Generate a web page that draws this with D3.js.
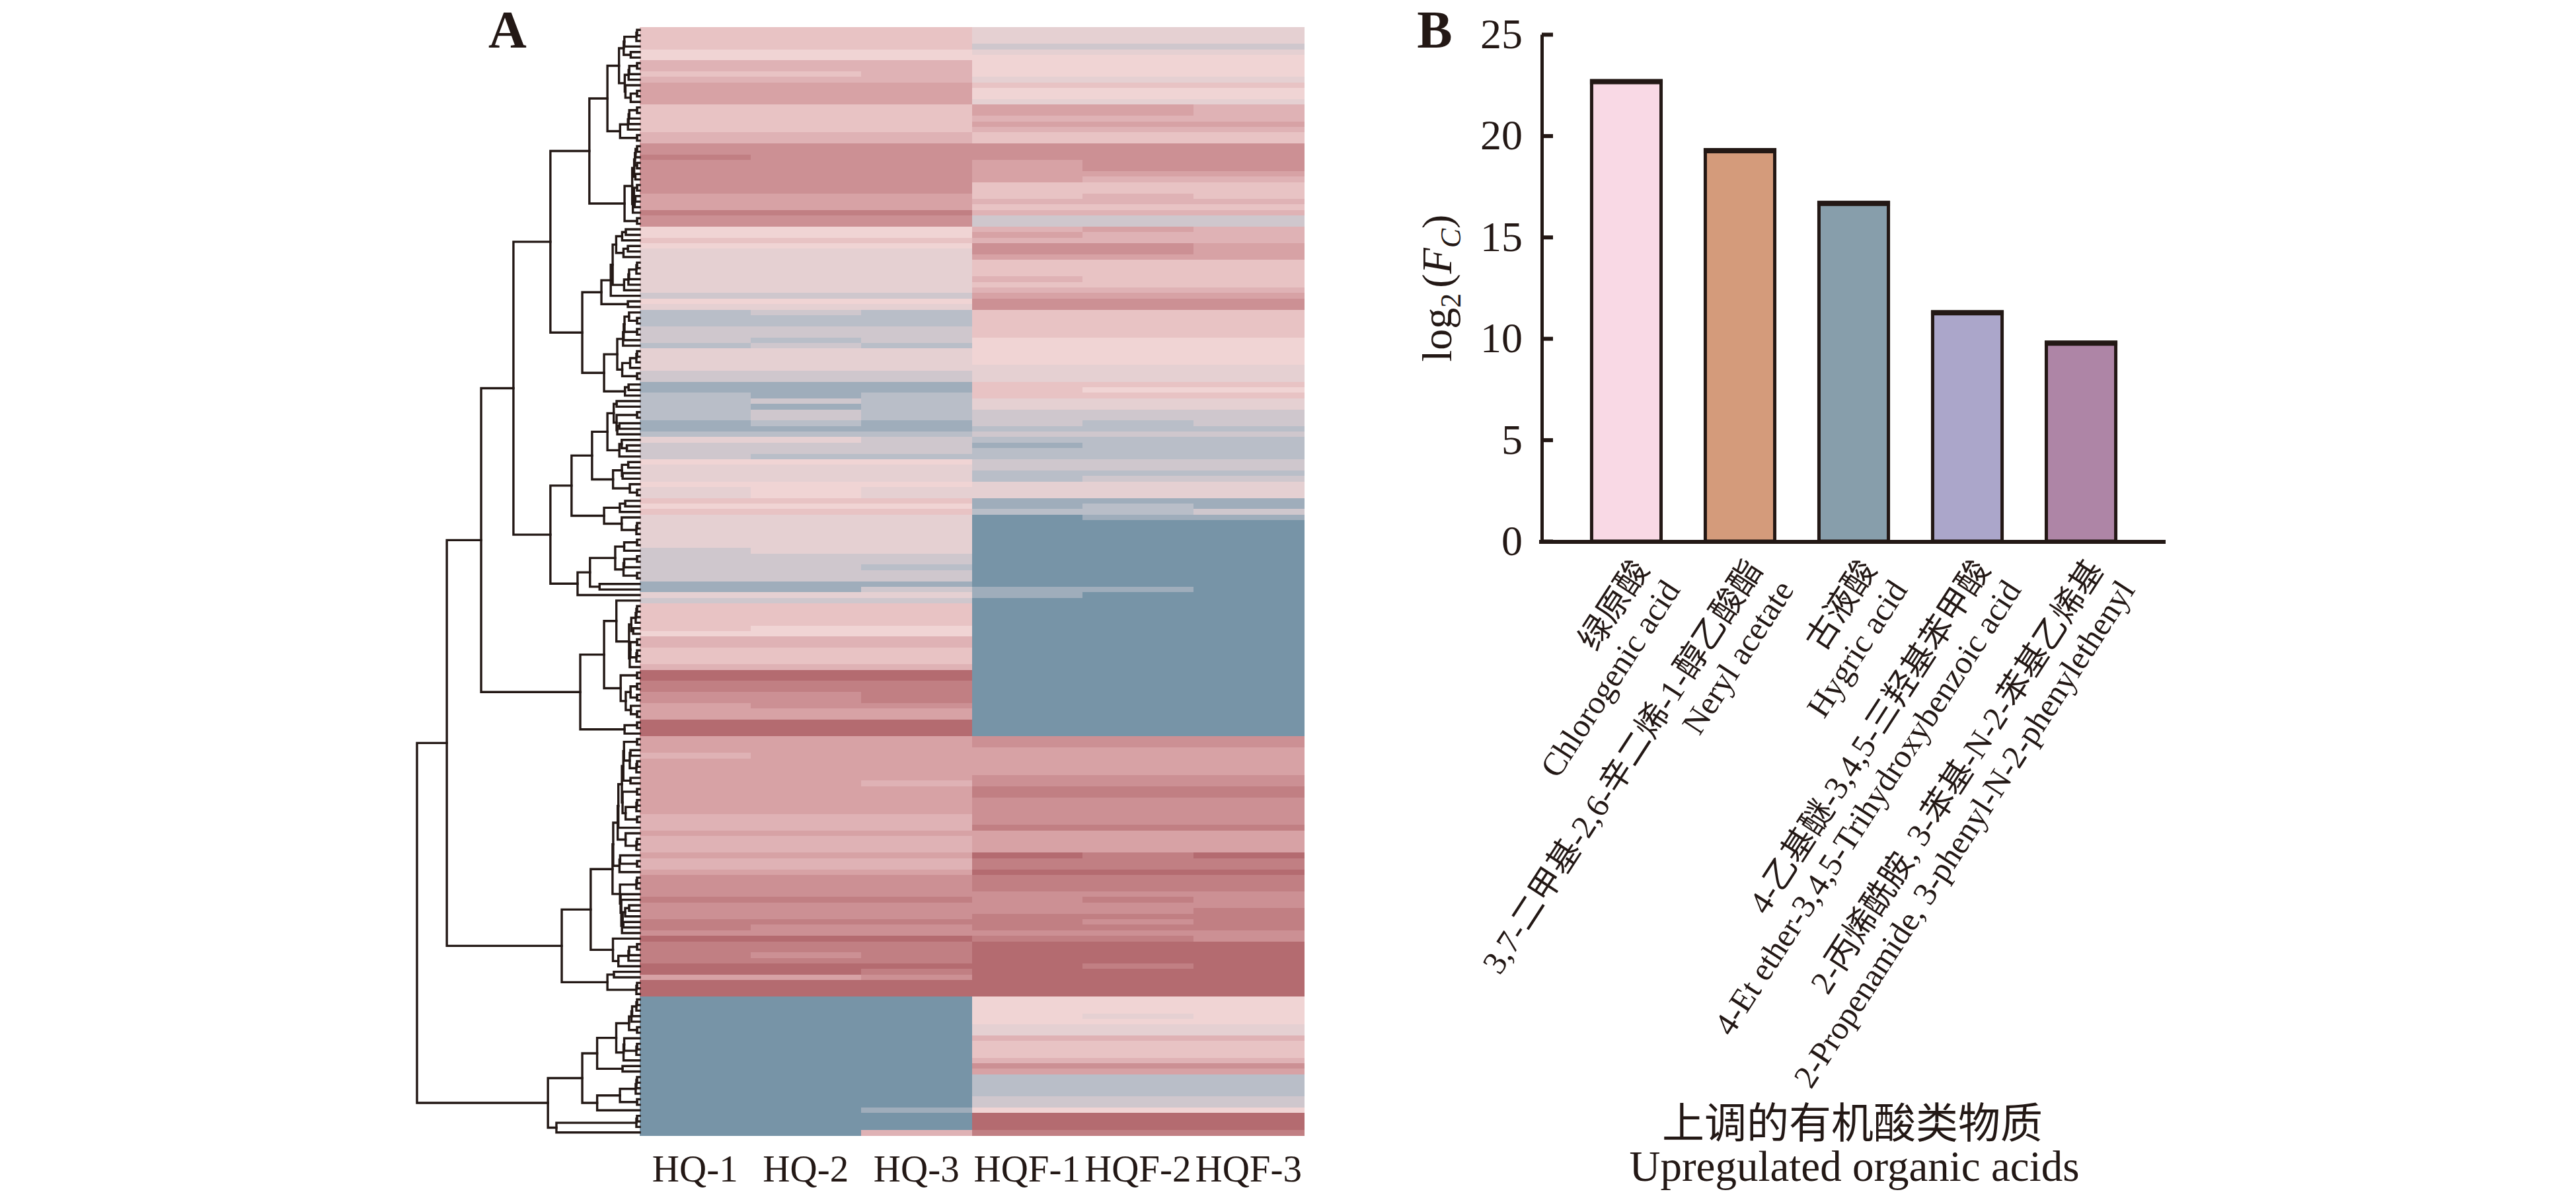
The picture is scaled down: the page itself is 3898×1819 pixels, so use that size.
<!DOCTYPE html>
<html>
<head>
<meta charset="utf-8">
<script src="https://cdn.jsdelivr.net/npm/d3@7"></script>
<style>
  body { margin: 0; background: #fff; }
  svg { display: block; }
</style>
</head>
<body>
<svg width="3898" height="1819"></svg>
<script>
// ---------- data: panel A (heatmap) ----------
const sampleNames = ["HQ-1", "HQ-2", "HQ-3", "HQF-1", "HQF-2", "HQF-3"];

// level code -> scaled abundance (z-score like)
const levelValues = { "0": -1, "1": -0.7, "2": -0.5, "3": -0.3, "4": -0.1, "5": 0,
                      "6": 0.15, "7": 0.3, "8": 0.45, "9": 0.62, "a": 0.8, "b": 1 };

// one string per compound (row), one code per sample
const heatRows = [
  "666444","666444","666444","666333","555444","555555","777555","777555","667555","777444",
  "888666","888555","888555","888444","666887","666887","666777","666888","666777","777666",
  "777666","999999","999999","a99999","999899","999899","999888","999877","999666","999666",
  "888676","888777","888666","aaa777","999333","999333","555787","555877","666777","555998",
  "444998","444888","444666","444666","444666","444766","444666","444777","333888","555999",
  "444999","232666","222666","222666","333666","333666","323555","232555","444555","444555",
  "444555","444444","333444","333444","111666","111655","212666","232444","212444","232333",
  "232333","121323","111222","222333","443222","333122","333222","322222","555333","444333",
  "444222","444233","555444","454444","454444","666111","555121","666223","444011","444000",
  "444000","444000","444000","444000","344000","333000","333000","332000","333000","333000",
  "111000","113110","444100","333000","666000","666000","666000","666000","655000","555000",
  "777000","777000","666000","666000","666000","777000","bbb000","bbb000","aaa000","aaa000",
  "99a000","99a000","899000","888000","888000","bbb000","bbb000","bbb000","888999","888999",
  "888888","788888","888888","888888","888888","888999","887999","888aaa","888aaa","888999",
  "888999","888999","777999","777999","777aaa","888888","777888","777888","777888","888bab",
  "777aaa","777aaa","888bbb","999aaa","999aaa","999aaa","999999","aaa9a9","999999","99999a",
  "999aaa","aaaa9a","a99aaa","999999","bbbaa9","aaabbb","aaabbb","a9abbb","aaabbb","bbbbab",
  "bbabbb","889bbb","bbbbbb","bbbbbb","bbbbbb","000555","000555","000555","000545","000555",
  "000444","000444","000777","000666","000666","000666","000777","000999","000888","000222",
  "000222","000222","000222","000333","000333","001555","000bbb","000bbb","000bbb","007aaa"
];

// dendrogram: leaf clusters [name, first row, last row, merge height]
const leafClusters = [
  ["a", 0, 20, 0.145], ["b", 21, 35, 0.068], ["c", 36, 50, 0.172], ["d", 51, 66, 0.160],
  ["e", 67, 84, 0.214], ["f", 85, 91, 0.160], ["g", 92, 102, 0.279], ["h", 103, 124, 0.160],
  ["i", 125, 127, 0.068], ["j", 128, 169, 0.220], ["k", 170, 174, 0.145], ["l", 175, 195, 0.258],
  ["m", 196, 199, 0.374]
];
// upper joins [name, left, right, merge height]
const treeJoins = [
  ["n11111", "a", "b", 0.226], ["n11112", "c", "d", 0.258], ["n1111", "n11111", "n11112", 0.401],
  ["n11121", "e", "f", 0.306], ["n1112", "n11121", "g", 0.401], ["n111", "n1111", "n1112", 0.567],
  ["n112", "h", "i", 0.267], ["n11", "n111", "n112", 0.712], ["n12", "j", "k", 0.350],
  ["n1", "n11", "n12", 0.866], ["n2", "l", "m", 0.412], ["root", "n1", "n2", 1.0]
];

// ---------- data: panel B (bars) ----------
const acidNamesCn = ["绿原酸", "3,7-二甲基-2,6-辛二烯-1-醇乙酸酯", "古液酸",
                     "4-乙基醚-3,4,5-三羟基苯甲酸", "2-丙烯酰胺, 3-苯基-N-2-苯基乙烯基"];
const acidNamesEn = ["Chlorogenic acid", "Neryl acetate", "Hygric acid",
                     "4-Et ether-3,4,5-Trihydroxybenzoic acid", "2-Propenamide, 3-phenyl-N-2-phenylethenyl"];
const log2Fc = [22.7, 19.3, 16.7, 11.3, 9.8];
const barColors = ["#f9d9e5", "#d49b7b", "#879eab", "#aba6ca", "#ae85a6"];
const yTicks = [0, 5, 10, 15, 20, 25];

// ---------- drawing ----------
const svg = d3.select("svg");
const serif = "'Liberation Serif', 'Times New Roman', 'Noto Sans CJK SC', serif";
const ink = "#231815";

svg.append("rect").attr("width", 3898).attr("height", 1819).attr("fill", "#fff");

// ===== Panel A =====
const rowScale = d3.scaleBand().domain(d3.range(heatRows.length)).range([41, 1718]);
const colScale = d3.scaleBand().domain(sampleNames).range([968, 1973]);
const heatColor = d3.scaleLinear()
    .domain([-1, -0.5, 0, 0.5, 1])
    .range(["#7794a7", "#b9bec8", "#f0d4d4", "#d49ca0", "#b46b70"]);

const rowVals = heatRows.map(s => s.split("").map(c => levelValues[c]));
const cells = [];
rowVals.forEach((vals, r) => vals.forEach((v, c) => cells.push({ r, c, v })));

svg.append("g")
    .attr("class", "heatmap")
    .selectAll("rect")
    .data(cells)
    .join("rect")
    .attr("x", d => colScale(sampleNames[d.c]))
    .attr("y", d => rowScale(d.r))
    .attr("width", colScale.bandwidth() + 0.6)
    .attr("height", rowScale.bandwidth() + 0.6)
    .attr("fill", d => heatColor(d.v))
    .attr("shape-rendering", "crispEdges");

// dendrogram
const distScale = d3.scaleLinear().domain([0, 1]).range([968, 631]);
const leafY = r => rowScale(r) + rowScale.bandwidth() / 2;

function dist(a, b) {
    return Math.sqrt(d3.sum(a, (v, i) => (v - b[i]) * (v - b[i])));
}

// adjacency-constrained agglomeration inside one leaf cluster
function clusterRows(first, last, topH) {
    let nodes = d3.range(first, last + 1).map(r => ({ row: r, h: 0, y: leafY(r), vals: rowVals[r], n: 1 }));
    const merges = [];
    while (nodes.length > 1) {
        let best = 0, bd = Infinity;
        for (let i = 0; i < nodes.length - 1; i++) {
            const d = dist(nodes[i].vals, nodes[i + 1].vals);
            if (d < bd) { bd = d; best = i; }
        }
        const a = nodes[best], b = nodes[best + 1];
        const n = a.n + b.n;
        const m = {
            children: [a, b], d: bd, n,
            vals: a.vals.map((v, i) => (v * a.n + b.vals[i] * b.n) / n),
            y: (a.y + b.y) / 2
        };
        nodes.splice(best, 2, m);
        merges.push(m);
    }
    const top = nodes[0];
    const dmax = d3.max(merges, m => m.d) || 1;
    merges.forEach(m => {
        const childMax = d3.max(m.children, c => c.h);
        if (m === top) m.h = topH;
        else m.h = Math.max(0.012 + (0.8 * topH - 0.012) * (m.d / dmax), childMax + 0.003);
    });
    return top;
}

const treeNodes = {};
leafClusters.forEach(([name, a, b, h]) => { treeNodes[name] = clusterRows(a, b, h); });
treeJoins.forEach(([name, l, r, h]) => {
    const L = treeNodes[l], R = treeNodes[r];
    treeNodes[name] = { children: [L, R], h, y: (L.y + R.y) / 2 };
});

const internal = d3.hierarchy(treeNodes.root, d => d.children)
    .descendants()
    .filter(n => n.children)
    .map(n => n.data);

svg.append("g")
    .attr("class", "dendrogram")
    .selectAll("path")
    .data(internal)
    .join("path")
    .attr("d", d => {
        const [c1, c2] = d.children;
        const p = d3.path();
        p.moveTo(distScale(c1.h), c1.y);
        p.lineTo(distScale(d.h), c1.y);
        p.lineTo(distScale(d.h), c2.y);
        p.lineTo(distScale(c2.h), c2.y);
        return p.toString();
    })
    .attr("fill", "none")
    .attr("stroke", ink)
    .attr("stroke-width", 3.4)
    .attr("stroke-linecap", "square");

// sample labels
svg.append("g")
    .selectAll("text")
    .data(sampleNames)
    .join("text")
    .attr("x", d => colScale(d) + colScale.bandwidth() / 2)
    .attr("y", 1788)
    .attr("text-anchor", "middle")
    .attr("font-family", serif)
    .attr("font-size", 57)
    .attr("fill", ink)
    .text(d => d);

svg.append("text")
    .attr("x", 768).attr("y", 72)
    .attr("text-anchor", "middle")
    .attr("font-family", serif)
    .attr("font-weight", "bold")
    .attr("font-size", 80)
    .attr("fill", ink)
    .text("A");

// ===== Panel B =====
const xB = d3.scaleBand()
    .domain(acidNamesEn)
    .range([2333, 3277])
    .paddingInner(0.36)
    .paddingOuter(0.424);
const yB = d3.scaleLinear().domain([0, 25]).range([819, 52]);

const yAxis = svg.append("g")
    .attr("transform", "translate(2333,0)")
    .call(d3.axisLeft(yB).tickValues(yTicks).tickSizeInner(-17).tickSizeOuter(0).tickPadding(29));
yAxis.select(".domain").attr("stroke", ink).attr("stroke-width", 5);
yAxis.selectAll(".tick line").attr("stroke", ink).attr("stroke-width", 6);
yAxis.selectAll(".tick text")
    .attr("font-family", serif)
    .attr("font-size", 64)
    .attr("fill", ink);

const barG = svg.append("g").attr("class", "bars");
barG.selectAll("rect")
    .data(log2Fc)
    .join("rect")
    .attr("x", (d, i) => xB(acidNamesEn[i]) + 2.5)
    .attr("y", d => yB(d))
    .attr("width", xB.bandwidth() - 5)
    .attr("height", d => yB(0) - yB(d))
    .attr("fill", (d, i) => barColors[i])
    .attr("stroke", ink)
    .attr("stroke-width", 5);
barG.selectAll("line")
    .data(log2Fc)
    .join("line")
    .attr("x1", (d, i) => xB(acidNamesEn[i]))
    .attr("x2", (d, i) => xB(acidNamesEn[i]) + xB.bandwidth())
    .attr("y1", d => yB(d) + 1)
    .attr("y2", d => yB(d) + 1)
    .attr("stroke", ink)
    .attr("stroke-width", 8);

// x axis line
svg.append("line")
    .attr("x1", xB.range()[0] - 4).attr("x2", xB.range()[1])
    .attr("y1", yB(0) + 1).attr("y2", yB(0) + 1)
    .attr("stroke", ink)
    .attr("stroke-width", 6);

// rotated category labels (Chinese line above English line)
const labelG = svg.append("g")
    .selectAll("g")
    .data(acidNamesEn)
    .join("g")
    .attr("transform", d => `translate(${xB(d) + xB.bandwidth() / 2 + 36},862) rotate(-57)`);
labelG.append("text")
    .attr("text-anchor", "end")
    .attr("font-family", serif)
    .attr("font-size", 50)
    .attr("fill", ink)
    .text((d, i) => acidNamesCn[i]);
labelG.append("text")
    .attr("y", 56)
    .attr("text-anchor", "end")
    .attr("font-family", serif)
    .attr("font-size", 50)
    .attr("fill", ink)
    .text(d => d);

// y axis title log2(Fc)
const yTitle = svg.append("text")
    .attr("transform", "translate(2196,436) rotate(-90)")
    .attr("text-anchor", "middle")
    .attr("font-family", serif)
    .attr("font-size", 64)
    .attr("fill", ink);
yTitle.append("tspan").text("log");
yTitle.append("tspan").attr("dy", 14).attr("font-size", 44).text("2");
yTitle.append("tspan").attr("dy", -14).attr("dx", 8).text("(");
yTitle.append("tspan").attr("font-style", "italic").text("F");
yTitle.append("tspan").attr("dy", 14).attr("font-size", 44).attr("font-style", "italic").text("C");
yTitle.append("tspan").attr("dy", -14).text(")");

// x axis title
svg.append("text")
    .attr("x", 2803).attr("y", 1722)
    .attr("text-anchor", "middle")
    .attr("font-family", serif)
    .attr("font-size", 64)
    .attr("fill", ink)
    .text("上调的有机酸类物质");
svg.append("text")
    .attr("x", 2806).attr("y", 1787)
    .attr("text-anchor", "middle")
    .attr("font-family", serif)
    .attr("font-size", 65)
    .attr("fill", ink)
    .text("Upregulated organic acids");

svg.append("text")
    .attr("x", 2171).attr("y", 72)
    .attr("text-anchor", "middle")
    .attr("font-family", serif)
    .attr("font-weight", "bold")
    .attr("font-size", 80)
    .attr("fill", ink)
    .text("B");
</script>
</body>
</html>
